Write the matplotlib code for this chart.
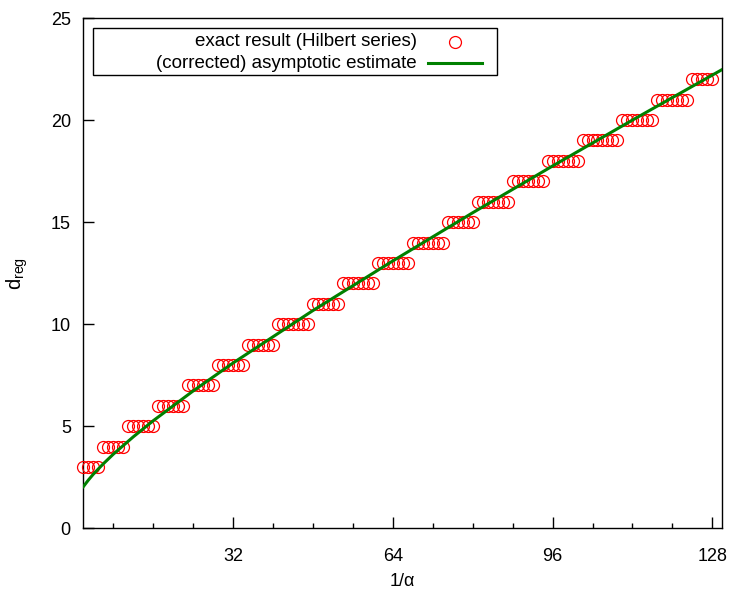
import numpy as np
import matplotlib
matplotlib.use("Agg")
import matplotlib.pyplot as plt
from matplotlib.patches import Rectangle
from matplotlib.lines import Line2D

plt.rcParams['font.family'] = ['Liberation Sans', 'DejaVu Sans']
plt.rcParams['mathtext.fontset'] = 'custom'
plt.rcParams['mathtext.rm'] = 'Liberation Sans'
plt.rcParams['mathtext.it'] = 'Liberation Sans:italic'

# exact result: d_reg is constant on runs of 1/alpha
d_levels = [3, 4, 5, 6, 7, 8, 9, 10, 11, 12, 13, 14, 15, 16, 17, 18, 19, 20, 21, 22]
run_first = [2, 6, 11, 17, 23, 29, 35, 41, 48, 54, 61, 68, 75, 81, 88, 95, 102, 110, 117, 124]
run_last = [5, 10, 16, 22, 28, 34, 40, 47, 53, 60, 67, 74, 80, 87, 94, 101, 109, 116, 123, 128]

# (corrected) asymptotic estimate
est_x = [2, 3, 4, 6, 8, 12, 16, 24, 32, 48, 64, 80, 96, 112, 130]
est_d = [2.04, 2.36, 2.65, 3.16, 3.63, 4.48, 5.27, 6.73, 8.10, 10.67, 13.10, 15.46, 17.75, 20.00, 22.48]

label_exact = "exact result (Hilbert series)"
label_est = "(corrected) asymptotic estimate"

exact_x = []
exact_d = []
for d, a, b in zip(d_levels, run_first, run_last):
    for x in range(a, b + 1):
        exact_x.append(x)
        exact_d.append(d)

fig = plt.figure(figsize=(7.29, 5.93), dpi=100)
ax = fig.add_axes([0.1143, 0.1091, 0.8765, 0.8605])

ax.plot(exact_x, exact_d, linestyle='none', marker='o', markersize=8.6,
        markerfacecolor='none', markeredgecolor='#ff0000', markeredgewidth=0.9,
        clip_on=False, zorder=3)
ax.plot(est_x, est_d, color='#008000', linewidth=2.2, zorder=4)

ax.set_xlim(2, 130)
ax.set_ylim(0, 25)
ax.set_xticks([32, 64, 96, 128])
ax.set_xticks([8, 16, 24, 40, 48, 56, 72, 80, 88, 104, 112, 120], minor=True)
ax.set_yticks([0, 5, 10, 15, 20, 25])
ax.tick_params(axis='both', which='both', direction='in', top=False, right=False,
               labelsize=13, width=1.0)
ax.tick_params(axis='x', which='major', length=8, pad=14)
ax.tick_params(axis='x', which='minor', length=3.6)
ax.tick_params(axis='y', which='major', length=8, pad=9)
for s in ax.spines.values():
    s.set_linewidth(1.0)

ax.set_xlabel("1/\u03b1", fontsize=13, labelpad=6)
ax.set_ylabel(r"d$_{\mathrm{reg}}$", fontsize=14.5, labelpad=15)

# legend box drawn by hand to match the wide left padding
ax.add_patch(Rectangle((0.0152, 0.8883), 0.6322, 0.0921, transform=ax.transAxes,
                       fill=False, edgecolor='black', linewidth=1.0, zorder=5))
ax.text(0.5222, 0.9536, label_exact, transform=ax.transAxes, ha='right', va='center',
        fontsize=13.5, zorder=6)
ax.text(0.5222, 0.9112, label_est, transform=ax.transAxes, ha='right', va='center',
        fontsize=13.5, zorder=6)
ax.add_line(Line2D([0.5817], [0.9536], transform=ax.transAxes, linestyle='none',
                   marker='o', markersize=8.6, markerfacecolor='none',
                   markeredgecolor='#ff0000', markeredgewidth=0.9, zorder=6))
ax.add_line(Line2D([0.5393, 0.6238], [0.9112, 0.9112], transform=ax.transAxes,
                   color='#008000', linewidth=2.2, zorder=6))

fig.savefig("out.png", dpi=100)
